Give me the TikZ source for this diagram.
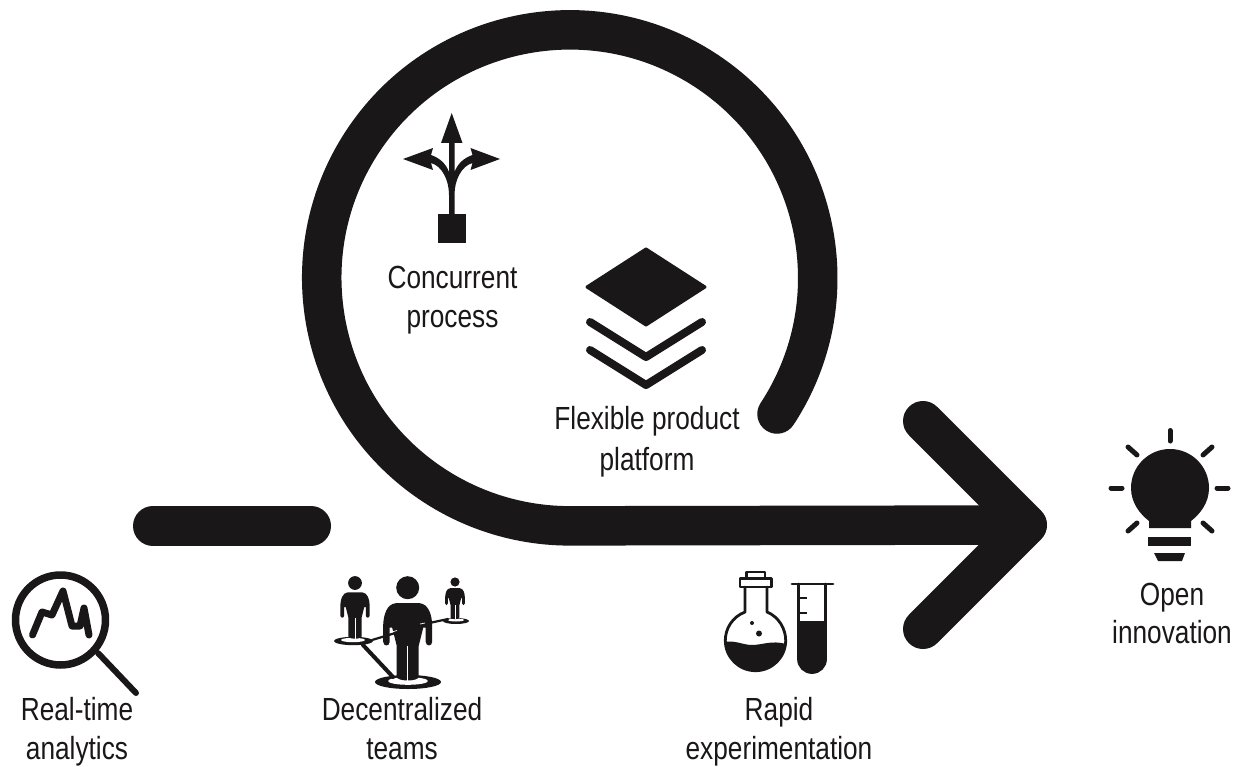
\documentclass[tikz,border=0pt]{standalone}
\usepackage{fontspec}
\setmainfont[FakeStretch=0.82]{Liberation Sans}
\definecolor{ink}{HTML}{1A1718}
\tikzset{
  band/.style={draw=ink,line width=40pt,line cap=round,line join=round},
  lbl/.style={anchor=base,text=ink,inner sep=0pt,font=\fontsize{32}{36}\selectfont},
  ln/.style={draw=ink,line cap=round,line join=round}
}
\newcommand{\personicon}[3]{%
\begin{scope}[shift={(#1,#2)},scale=#3]
  \fill[ink] (0,0) circle (11.5);
  \fill[ink] (-12,15.5) .. controls (-21,16.5) and (-24,27) .. (-24.5,37) -- (-24.5,54)
     .. controls (-24.5,59) and (-18,59) .. (-18,54) -- (-18,40) -- (-15.5,40)
     -- (-11,58) -- (-11,89) .. controls (-11,94) and (11,94) .. (11,89) -- (11,58)
     -- (15.5,40) -- (18,40) -- (18,54) .. controls (18,59) and (24.5,59) .. (24.5,54)
     -- (24.5,37) .. controls (24,27) and (21,16.5) .. (12,15.5) -- cycle;
  \draw[white,line width=#3*1.3pt] (0,58) -- (0,93);
\end{scope}}
\begin{document}
\begin{tikzpicture}[x=1pt,y=1pt,yscale=-1]
\useasboundingbox (0,0) rectangle (1241,767);
\fill[white] (0,0) rectangle (1241,767);

% main swirl and arrow
\coordinate (swirlstart) at (777,414);
\coordinate (tip) at (1027,525);
\coordinate (armtop) at (923,421);
\coordinate (armbot) at (923,629);
\coordinate (dashl) at (153,526);
\coordinate (dashr) at (311,526);
\draw[band,line width=39.5pt] (swirlstart) arc[start angle=33.3,end angle=-270,radius=248] -- (tip);
\draw[band] (armtop) -- (tip) -- (armbot);
\draw[band] (dashl) -- (dashr);

% magnifier
\draw[ln,line width=7.5pt] (60.5,620) circle (45);
\draw[ln,line width=6pt] (98,653) -- (136,693);
\draw[ln,line width=7pt] (32.5,635) -- (42,612) -- (52,615) -- (63,591) -- (72,626) -- (80,626) -- (84,608) -- (89,635);

% people
\fill[ink] (408,682) ellipse (33 and 7);
\fill[white] (408,681) ellipse (20 and 3.8);
\fill[ink] (353.5,641) ellipse (19.5 and 4.2);
\fill[white] (353,640) ellipse (12 and 2.2);
\fill[ink] (456,621) ellipse (13 and 3);
\fill[white] (456,620) ellipse (8 and 1.5);
\draw[ln,line width=4pt] (363,645) -- (393,677);
\draw[ln,line width=2.2pt] (372,640) -- (397,632.5);
\draw[ln,line width=2.2pt] (420,625) -- (448,619);
\personicon{407.7}{587.7}{1}
\personicon{355}{583}{0.6}
\personicon{455}{582}{0.4}
\draw[white,line width=0.7pt] (390,632.5) -- (397,630.5);
\draw[white,line width=0.7pt] (420,624) -- (425,623);

% branching arrows
\fill[ink] (437.5,214) rectangle (466,243);
\fill[ink] (449,216) -- (449,195) .. controls (449,180) and (442,166) .. (431,163)
  -- (433,170) -- (403,159) -- (433,148) -- (431,155)
  .. controls (440,158) and (446,164) .. (449,172) -- (449,143) -- (441,143) -- (451.7,113) -- (462.5,143) -- (454.5,143)
  -- (454.5,172) .. controls (457.5,164) and (463.5,158) .. (472.5,155)
  -- (470.5,148) -- (500,159) -- (470.5,170) -- (472.5,163)
  .. controls (461.5,166) and (454.5,180) .. (454.5,195) -- (454.5,216) -- cycle;

% layers
\fill[ink,draw=ink,line width=3pt,line join=round] (646,249) -- (705,287) -- (646,325) -- (587,287) -- cycle;
\draw[ln,line width=8pt] (590,322) -- (646,357) -- (702,322);
\draw[ln,line width=8pt] (590,350) -- (646,385) -- (702,350);

% flask
\draw[ln,line width=2.8pt] (745,587) -- (745,612) .. controls (732,617) and (725.3,629) .. (725.3,640.5)
   arc[start angle=180,end angle=0,radius=30.2]
   .. controls (785.7,629) and (779,617) .. (767,612) -- (767,587);
\draw[ln,line width=2.8pt] (740,578.5) rectangle (771.5,587);
\draw[ln,line width=2.8pt] (746.5,572) rectangle (765,578.5);
\fill[ink] (725,642) .. controls (735,640) and (743,645) .. (752,645) .. controls (762,645) and (772,640) .. (786,644)
   arc[start angle=6,end angle=174,radius=30.6] -- cycle;
\fill[ink] (752,623) circle (2);
\fill[ink] (759,633.5) circle (3);

% test tube
\draw[ln,line width=2.8pt] (792,584) -- (833,584);
\draw[ln,line width=2.8pt] (798.5,584) -- (798.5,659) arc[start angle=180,end angle=0,radius=13.5] -- (825.5,584);
\fill[ink] (798,621) -- (826.5,621) -- (826.5,659) arc[start angle=0,end angle=180,radius=14.2] -- cycle;
\draw[ink,line width=2.4pt] (799,598) -- (807,598) (799,613) -- (807,613);

% bulb
\fill[ink] (1149,528) -- (1149,521) .. controls (1140,514) and (1131,503) .. (1131,488)
  arc[start angle=180,end angle=360,radius=39]
  .. controls (1209,503) and (1200,514) .. (1191,521) -- (1191,528) -- cycle;
\fill[ink] (1148,537) rectangle (1191,546);
\fill[ink] (1154,553) -- (1185,553) -- (1182,561) -- (1158,561) -- cycle;
\draw[ln,line width=5pt] (1170,430.5) -- (1170,441);
\draw[ln,line width=5pt] (1111,488) -- (1122,488);
\draw[ln,line width=5pt] (1217,488) -- (1228,488);
\draw[ln,line width=5pt] (1128,447) -- (1137,455);
\draw[ln,line width=5pt] (1212,447) -- (1203,455);
\draw[ln,line width=5pt] (1128,531) -- (1137,523);
\draw[ln,line width=5pt] (1212,531) -- (1203,523);

% labels
\node[lbl] (t1a) at (77,720) {Real-time};
\node[lbl] (t1b) at (77,759) {analytics};
\node[lbl] (t2a) at (402,720) {Decentralized};
\node[lbl] (t2b) at (402,759) {teams};
\node[lbl] (t3a) at (452.5,288) {Concurrent};
\node[lbl] (t3b) at (452.5,327) {process};
\node[lbl] (t4a) at (647,429) {Flexible product};
\node[lbl] (t4b) at (647,470) {platform};
\node[lbl] (t5a) at (779,720) {Rapid};
\node[lbl] (t5b) at (779,759) {experimentation};
\node[lbl] (t6a) at (1172,605) {Open};
\node[lbl] (t6b) at (1172,643) {innovation};
\end{tikzpicture}
\end{document}
